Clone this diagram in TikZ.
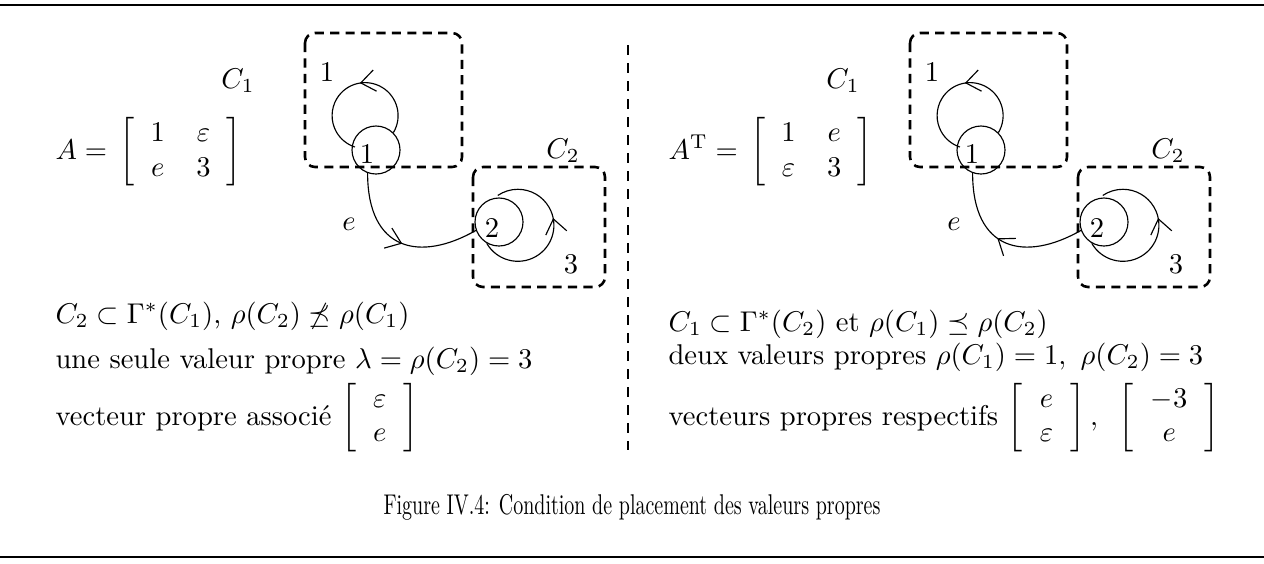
\documentclass[tikz,border=0pt]{standalone}
\usepackage{amsmath,amssymb}
\usepackage{graphicx}
\usetikzlibrary{arrows.meta,decorations.markings}

\begin{document}
\begin{tikzpicture}[x=0.35pt,y=0.35pt,
  every node/.style={inner sep=0pt},
  state/.style={circle,draw,minimum size=16.8pt},
  cluster/.style={draw,line width=0.9pt,dash pattern=on 3.2pt off 2.2pt,rounded corners=3.5pt},
  harpoon/.style={postaction={decorate},decoration={markings,
    mark=at position #1 with {\arrow{Straight Barb[length=5pt,width=7.5pt]}}}}]
  \useasboundingbox (0,0) rectangle (1264,-563);
  \draw[line width=1pt] (0,-5) -- (1264,-5);
  \draw[line width=1pt] (0,-557) -- (1264,-557);
  \draw[dash pattern=on 3.5pt off 2.8pt] (628,-45) -- (628,-450);

  % graphe et composantes, a gauche puis a droite
  \foreach \p/\dx in {l/0,r/605}{
    \draw[cluster] (305+\dx,-33) rectangle (462+\dx,-167);
    \draw[cluster] (473+\dx,-167) rectangle (605+\dx,-287);
    \node[state] (n1\p) at (376+\dx,-150) {};
    \node[state] (n2\p) at (499+\dx,-222) {};
    \node at (367+\dx,-154) {1};
    \node at (492+\dx,-228) {2};
    \node at (327+\dx,-72) {1};
    \node at (571+\dx,-264) {3};
    \node at (238+\dx,-81) {$C_1$};
    \node at (563+\dx,-151) {$C_2$};
    \node at (349+\dx,-224) {$e$};
    \draw[harpoon=0.46] (n1\p.45) arc[start angle=-31,end angle=252,radius=33];
    \draw[harpoon=0.59] (n2\p.240) arc[start angle=-150,end angle=124,radius=36];
  }
  \draw[harpoon=0.52] (n1l.250) .. controls +(0,-78) and +(-56,-32) .. (n2l.200);
  \draw[harpoon=0.55] (n2r.200) .. controls +(-56,-32) and +(0,-78) .. (n1r.250);

  % matrices
  \node[anchor=west] (matA) at (55,-152)
    {$\arraycolsep=5.5pt A=\,\left[\begin{array}{cc}1&\varepsilon\\e&3\end{array}\right]$};
  \node[anchor=west] (matAT) at (668,-152)
    {$\arraycolsep=5.5pt A^{\mathrm{T}}=\,\left[\begin{array}{cc}1&e\\\varepsilon&3\end{array}\right]$};

  % conditions
  \node[anchor=base west] (l1) at (55,-323) {$C_2\subset\Gamma^*(C_1)$, $\rho(C_2)\not\preceq\rho(C_1)$};
  \node[anchor=base west] (l2) at (55,-368) {une seule valeur propre $\lambda=\rho(C_2)=3$};
  \node[anchor=base west] (l3) at (55,-425)
    {vecteur propre associé $\arraycolsep=6pt\left[\begin{array}{c}\varepsilon\\e\end{array}\right]$};
  \node[anchor=base west] (r1) at (668,-331) {$C_1\subset\Gamma^*(C_2)$ et $\rho(C_1)\preceq\rho(C_2)$};
  \node[anchor=base west] (r2) at (668,-364) {deux valeurs propres $\rho(C_1)=1,\ \rho(C_2)=3$};
  \node[anchor=base west] (r3) at (668,-425)
    {vecteurs propres respectifs $\arraycolsep=6pt\left[\begin{array}{c}e\\\varepsilon\end{array}\right],
      \;\;\left[\begin{array}{c}-3\\e\end{array}\right]$};

  \node (cap) at (632,-507) {\scalebox{0.7}[1]{Figure IV.4: Condition de placement des valeurs propres}};
\end{tikzpicture}
\end{document}
